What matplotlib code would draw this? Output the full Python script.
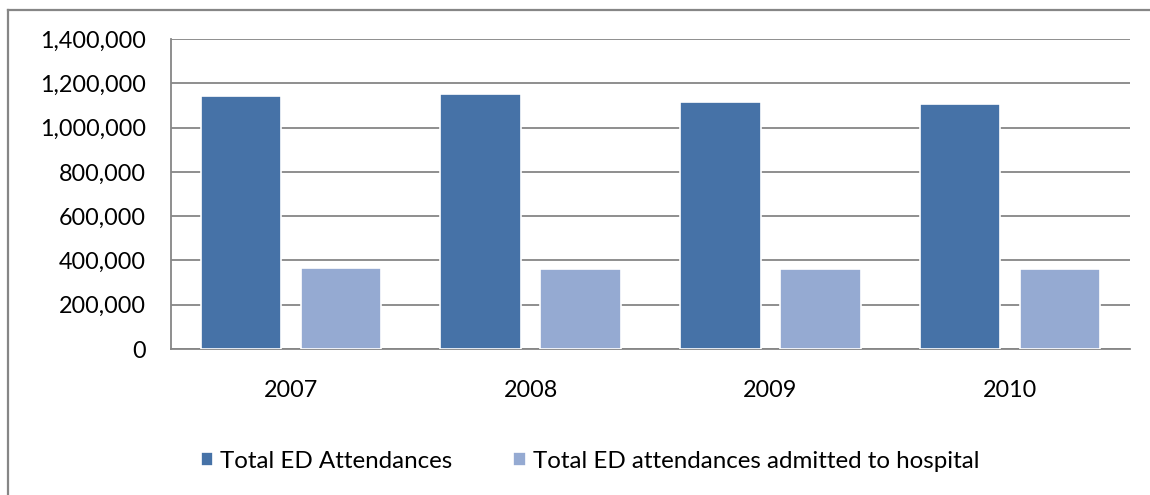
import matplotlib.pyplot as plt
from matplotlib.lines import Line2D
from matplotlib.ticker import FuncFormatter
import numpy as np

years = ["2007", "2008", "2009", "2010"]
total_attendances = [1141000, 1150000, 1116000, 1108000]
admitted = [365000, 362000, 360000, 362000]
series_names = ["Total ED Attendances", "Total ED attendances admitted to hospital"]

C_DARK = "#4672A7"
C_LIGHT = "#95AAD2"
C_GRID = "#868686"

plt.rcParams["font.family"] = ["Lato", "DejaVu Sans"]

fig = plt.figure(figsize=(11.5, 4.95), dpi=100)
ax = fig.add_axes([0.1487, 0.2949, 0.9826 - 0.1487, 0.9212 - 0.2949])

x = np.arange(len(years))
w = 0.335
off = 0.2085
ax.bar(x - off, total_attendances, w, color=C_DARK, edgecolor="white",
       linewidth=1.2, zorder=3, label=series_names[0])
ax.bar(x + off, admitted, w, color=C_LIGHT, edgecolor="white",
       linewidth=1.2, zorder=3, label=series_names[1])

ax.set_xlim(-0.5, 3.5)
ax.set_ylim(0, 1400000)
ax.set_yticks(np.arange(0, 1400001, 200000))
ax.yaxis.set_major_formatter(FuncFormatter(lambda v, p: f"{int(v):,}"))
ax.set_xticks(x)
ax.set_xticklabels(years)

ax.grid(axis="y", color=C_GRID, linewidth=1.3, zorder=0)
ax.set_axisbelow(True)
for s in ["top", "right"]:
    ax.spines[s].set_visible(False)
for s in ["left", "bottom"]:
    ax.spines[s].set_color(C_GRID)
    ax.spines[s].set_linewidth(1.3)
ax.tick_params(axis="both", length=0, labelsize=16.8, colors="black")
ax.tick_params(axis="y", pad=18)
ax.tick_params(axis="x", pad=22)

# legenda debajo del eje
fig.legend(loc="center", bbox_to_anchor=(0.513, 1 - 461 / 495), ncol=2,
           frameon=False, fontsize=17.4, handlelength=0.52, handleheight=0.52,
           handletextpad=0.3, columnspacing=2.5)

# marco exterior del gráfico
bx, by = 8 / 1150, 1 - 10 / 495
fig.add_artist(Line2D([bx, 1.0], [by, by], transform=fig.transFigure,
                      color=C_GRID, linewidth=1.6))
fig.add_artist(Line2D([bx, bx], [0, by], transform=fig.transFigure,
                      color=C_GRID, linewidth=1.6))

fig.savefig("out.png", dpi=100, facecolor="white")
